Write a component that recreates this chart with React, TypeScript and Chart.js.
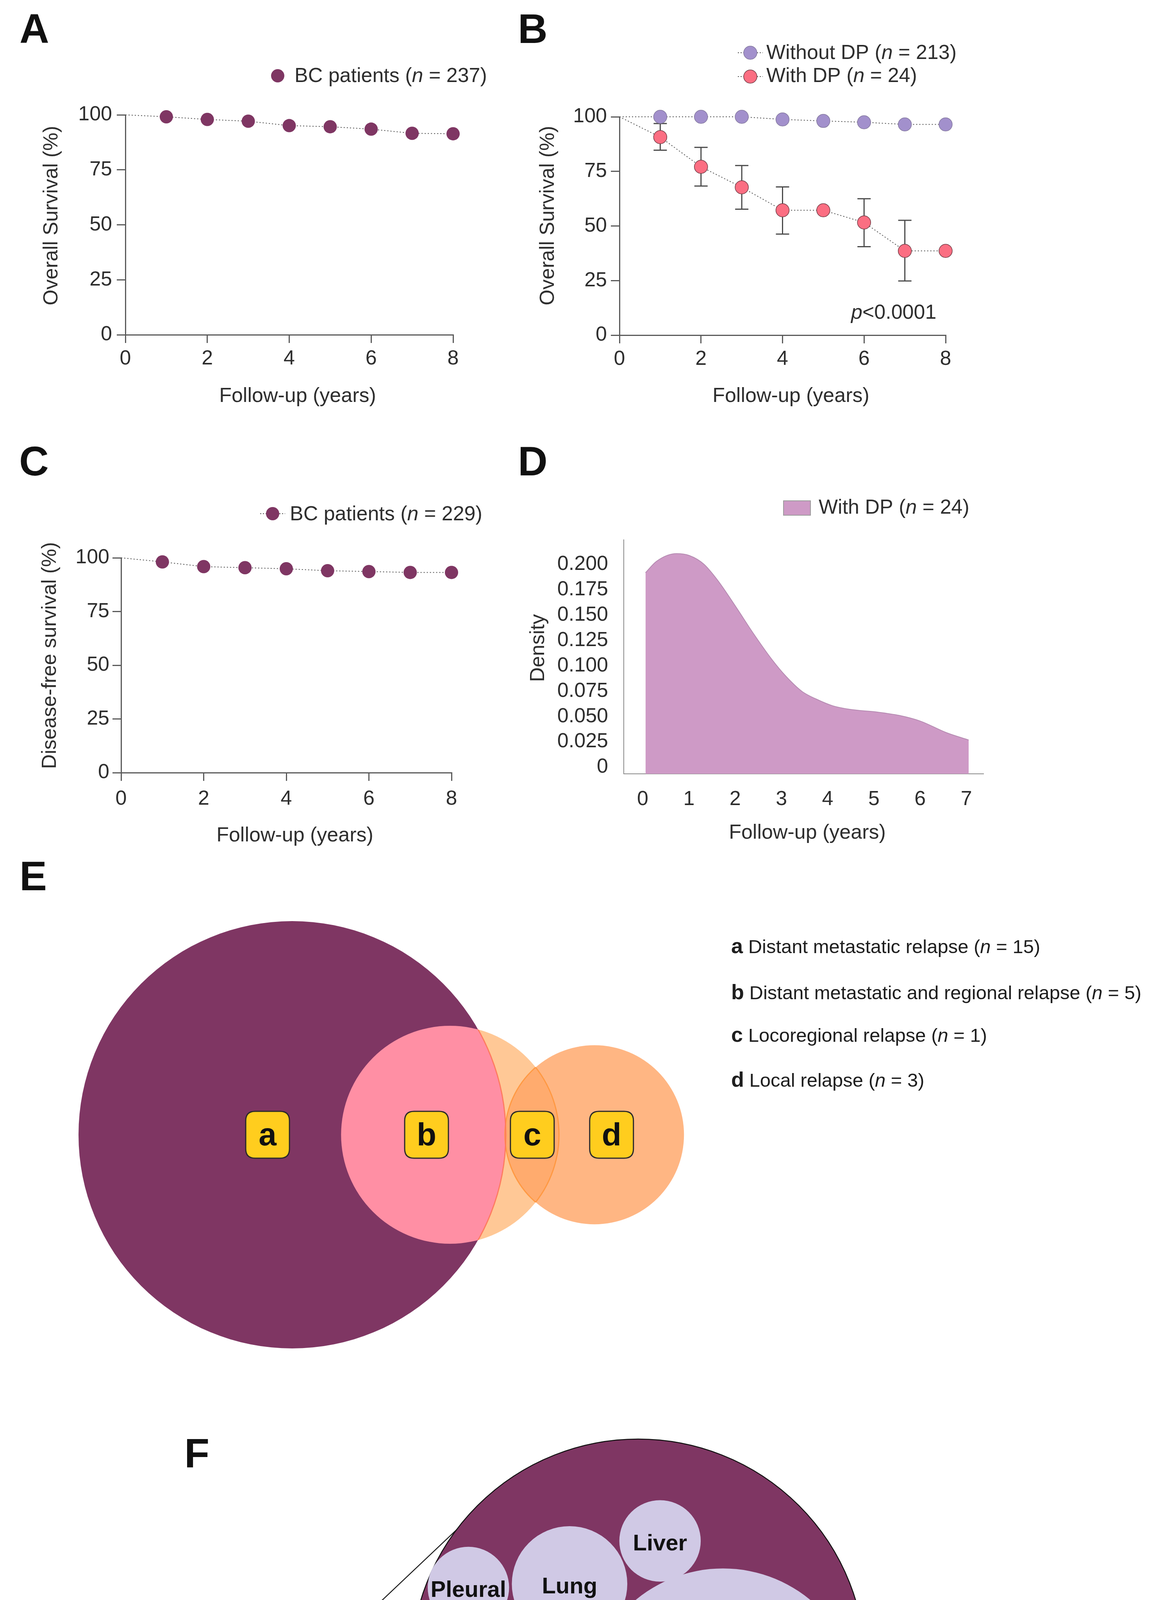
import React, { useEffect, useRef } from 'react';
import { Chart, registerables } from 'chart.js';

Chart.register(...registerables);

const FONT = "'Liberation Sans', Arial, Helvetica, sans-serif";

// ---------------- data ----------------
const followUpYears = [0, 1, 2, 3, 4, 5, 6, 7, 8];
const osAllPatients = [100, 99.1, 97.9, 97.1, 95.1, 94.6, 93.5, 91.6, 91.4];
const osWithoutDP = [100, 100, 100, 100, 98.8, 98.1, 97.5, 96.5, 96.5];
const osWithDP = [100, 90.7, 77.1, 67.7, 57.2, 57.2, 51.6, 38.6, 38.6];
const osWithDPUpper: (number | null)[] = [null, 96.9, 86.0, 77.7, 67.9, null, 62.5, 52.6, null];
const osWithDPLower: (number | null)[] = [null, 84.7, 68.3, 57.7, 46.3, null, 40.5, 24.8, null];
const dfsAllPatients = [100, 98.1, 95.9, 95.4, 94.9, 94.0, 93.6, 93.2, 93.2];

const densityYears = [0.06, 0.3, 0.73, 1.01, 1.32, 1.62, 2.03, 2.38, 2.79, 3.1, 3.45, 3.76, 4.11, 4.47, 5.08, 5.54, 6.0, 6.56, 7.05];
const densityValues = [0.1916, 0.2029, 0.2104, 0.2085, 0.2001, 0.1842, 0.157, 0.1327, 0.1064, 0.0895, 0.0745, 0.067, 0.0605, 0.0571, 0.0543, 0.0511, 0.0455, 0.0342, 0.0268];
const densityXTicks = [0, 1, 2, 3, 4, 5, 6, 7];
const densityYTicks = [0, 0.025, 0.05, 0.075, 0.1, 0.125, 0.15, 0.175, 0.2];
const densityYTickLabels = ['0', '0.025', '0.050', '0.075', '0.100', '0.125', '0.150', '0.175', '0.200'];

// Venn (E): circles a (distant), regional, local — unit = radius of circle a
const vennCircleX = [0, 0.739, 1.415];
const vennCircleY = [0, 0, 0];
const vennCircleR = [1, 0.51, 0.419];
const vennLabels = ['a', 'b', 'c', 'd'];
const vennLabelX = [-0.115, 0.629, 1.124, 1.495];
const vennLabelY = [0, 0, 0, 0];
const relapseLetters = ['a', 'b', 'c', 'd'];
const relapseTypes = ['Distant metastatic relapse', 'Distant metastatic and regional relapse', 'Locoregional relapse', 'Local relapse'];
const relapseCounts = [15, 5, 1, 3];

// Bubble pack (F): unit = radius of enclosing circle
const siteNames = ['Liver', 'Lung', 'Pleural', 'Bone', 'Multiple localizations', 'Brain'];
const siteX = [0.096, -0.302, -0.747, -0.605, 0.373, -0.284];
const siteY = [0.552, 0.363, 0.347, -0.175, -0.17, -0.608];
const siteR = [0.179, 0.254, 0.179, 0.361, 0.601, 0.18];
const calloutTopX = [-1.503, -0.739];
const calloutTopY = [-0.065, 0.658];
const calloutBottomX = [-1.503, -0.582];
const calloutBottomY = [-0.285, -0.809];
const calloutBoxX = -1.555;
const calloutBoxY = -0.17;

// ---------------- styles ----------------
const PURPLE = '#7F3663';
const LAVENDER_POINT = '#A290CC';
const LAVENDER_EDGE = '#857aa0';
const RED_POINT = '#FB6E82';
const RED_EDGE = '#6e3a44';
const AXIS = '#5a5a5a';
const TEXT = '#2e2e2e';
const DENSITY_FILL = '#CE9AC6';
const DENSITY_EDGE = '#B58AB1';
const PEACH = '#FFC896';
const PINK = '#FF8FA4';
const LOCAL = 'rgba(255,164,100,0.8)';
const YELLOW = '#FFCD1E';
const SITE_FILL = '#D0C9E5';

type Part = { t: string; italic?: boolean; bold?: boolean; size?: number };

function drawParts(ctx: CanvasRenderingContext2D, x: number, baseline: number, parts: Part[], size: number, color = TEXT) {
  let cx = x;
  ctx.textBaseline = 'alphabetic';
  ctx.textAlign = 'left';
  ctx.fillStyle = color;
  for (const p of parts) {
    ctx.font = `${p.italic ? 'italic ' : ''}${p.bold ? 'bold ' : ''}${p.size ?? size}px ${FONT}`;
    ctx.fillText(p.t, cx, baseline);
    cx += ctx.measureText(p.t).width;
  }
}

interface AxisTitle { text: string; cx: number; cy: number; vertical?: boolean }

function drawAxisTitle(ctx: CanvasRenderingContext2D, t: AxisTitle) {
  ctx.save();
  ctx.translate(t.cx, t.cy);
  if (t.vertical) ctx.rotate(-Math.PI / 2);
  ctx.fillStyle = TEXT;
  ctx.font = `52px ${FONT}`;
  ctx.textAlign = 'center';
  ctx.textBaseline = 'middle';
  ctx.fillText(t.text, 0, 0);
  ctx.restore();
}

function roundRect(ctx: CanvasRenderingContext2D, cx: number, cy: number, w: number, h: number, r: number) {
  const x = cx - w / 2;
  const y = cy - h / 2;
  ctx.beginPath();
  ctx.moveTo(x + r, y);
  ctx.lineTo(x + w - r, y);
  ctx.quadraticCurveTo(x + w, y, x + w, y + r);
  ctx.lineTo(x + w, y + h - r);
  ctx.quadraticCurveTo(x + w, y + h, x + w - r, y + h);
  ctx.lineTo(x + r, y + h);
  ctx.quadraticCurveTo(x, y + h, x, y + h - r);
  ctx.lineTo(x, y + r);
  ctx.quadraticCurveTo(x, y, x + r, y);
  ctx.closePath();
}

function drawLetterBox(ctx: CanvasRenderingContext2D, cx: number, cy: number, letter: string, w: number, h: number) {
  ctx.save();
  roundRect(ctx, cx, cy, w, h, 24);
  ctx.fillStyle = YELLOW;
  ctx.fill();
  ctx.lineWidth = 3;
  ctx.strokeStyle = '#2a2a2a';
  ctx.stroke();
  ctx.fillStyle = '#111';
  ctx.font = `bold 82px ${FONT}`;
  ctx.textAlign = 'center';
  ctx.textBaseline = 'middle';
  ctx.fillText(letter, cx, cy + 4);
  ctx.restore();
}

const baseOptions = (extra: any) => ({
  responsive: false,
  maintainAspectRatio: false,
  animation: false,
  devicePixelRatio: 1,
  events: [],
  plugins: { legend: { display: false }, tooltip: { enabled: false } },
  ...extra,
});

interface SurvLayout {
  w: number; h: number; left: number; right: number; top: number; bottom: number;
  xTickPad: number; yTickPad: number;
}

function survivalOptions(L: SurvLayout) {
  const f = { family: FONT, size: 52 };
  return baseOptions({
    layout: { padding: { top: L.top, right: L.w - L.right, left: 0, bottom: 0 } },
    scales: {
      x: {
        type: 'linear', min: 0, max: 8,
        afterFit: (s: any) => { s.height = L.h - L.bottom; },
        ticks: { stepSize: 2, color: TEXT, font: f, padding: L.xTickPad, maxRotation: 0, autoSkip: false },
        grid: { drawOnChartArea: false, drawTicks: true, tickLength: 21, color: AXIS, lineWidth: 3 },
        border: { display: true, color: AXIS, width: 3 },
      },
      y: {
        type: 'linear', min: 0, max: 100,
        afterFit: (s: any) => { s.width = L.left; },
        ticks: { stepSize: 25, color: TEXT, font: f, padding: L.yTickPad, autoSkip: false },
        grid: { drawOnChartArea: false, drawTicks: true, tickLength: 22, color: AXIS, lineWidth: 3 },
        border: { display: true, color: AXIS, width: 3 },
      },
    },
  });
}

function survivalDataset(values: number[], color: string, edge?: string) {
  return {
    data: followUpYears.map((x, i) => ({ x, y: values[i] })),
    showLine: true,
    borderColor: '#555',
    borderWidth: 2,
    borderDash: [3, 5],
    pointRadius: (c: any) => (c.dataIndex === 0 ? 0 : 17),
    pointBackgroundColor: color,
    pointBorderColor: edge ?? color,
    pointBorderWidth: edge ? 1.5 : 0,
    clip: false,
  };
}

interface LegendEntry { x: number; y: number; color: string; edge?: string; line?: boolean; textX: number; baseline: number; parts: Part[] }

function overlayPlugin(titles: AxisTitle[], entries: LegendEntry[], texts: { x: number; baseline: number; parts: Part[] }[] = []) {
  return {
    id: 'overlay',
    afterDraw(chart: any) {
      const ctx: CanvasRenderingContext2D = chart.ctx;
      ctx.save();
      titles.forEach((t) => drawAxisTitle(ctx, t));
      for (const e of entries) {
        if (e.line) {
          ctx.save();
          ctx.strokeStyle = '#555';
          ctx.lineWidth = 2;
          ctx.setLineDash([3, 4]);
          ctx.beginPath();
          ctx.moveTo(e.x - 32, e.y);
          ctx.lineTo(e.x + 32, e.y);
          ctx.stroke();
          ctx.restore();
        }
        ctx.beginPath();
        ctx.arc(e.x, e.y, 17, 0, Math.PI * 2);
        ctx.fillStyle = e.color;
        ctx.fill();
        if (e.edge) {
          ctx.lineWidth = 1.5;
          ctx.strokeStyle = e.edge;
          ctx.stroke();
        }
        drawParts(ctx, e.textX, e.baseline, e.parts, 52);
      }
      for (const t of texts) drawParts(ctx, t.x, t.baseline, t.parts, 52);
      ctx.restore();
    },
  };
}

const errorBarPlugin = {
  id: 'errorBars',
  beforeDatasetDraw(chart: any, args: any) {
    if (args.index !== 1) return;
    const { x, y } = chart.scales;
    const ctx: CanvasRenderingContext2D = chart.ctx;
    ctx.save();
    ctx.strokeStyle = '#4a4a4a';
    ctx.lineWidth = 3;
    followUpYears.forEach((yr, i) => {
      const hi = osWithDPUpper[i];
      const lo = osWithDPLower[i];
      if (hi == null || lo == null) return;
      const px = x.getPixelForValue(yr);
      const ph = y.getPixelForValue(hi);
      const pl = y.getPixelForValue(lo);
      ctx.beginPath();
      ctx.moveTo(px, ph); ctx.lineTo(px, pl);
      ctx.moveTo(px - 17, ph); ctx.lineTo(px + 17, ph);
      ctx.moveTo(px - 17, pl); ctx.lineTo(px + 17, pl);
      ctx.stroke();
    });
    ctx.restore();
  },
};

const nItalic = (pre: string, post: string): Part[] => [{ t: pre }, { t: 'n', italic: true }, { t: post }];
const FOLLOW = 'Follow-up (years)';

const buildA = () => ({
  type: 'scatter',
  data: { datasets: [survivalDataset(osAllPatients, PURPLE)] },
  options: survivalOptions({ w: 1300, h: 1100, left: 321, right: 1160, top: 294, bottom: 857, xTickPad: 9, yTickPad: 12 }),
  plugins: [
    overlayPlugin(
      [
        { text: 'Overall Survival (%)', cx: 133, cy: 552, vertical: true },
        { text: FOLLOW, cx: 762, cy: 1015 },
      ],
      [{ x: 711, y: 194, color: PURPLE, textX: 754, baseline: 210, parts: nItalic('BC patients (', ' = 237)') }],
    ),
  ],
});

const buildB = () => ({
  type: 'scatter',
  data: {
    datasets: [
      survivalDataset(osWithoutDP, LAVENDER_POINT, LAVENDER_EDGE),
      survivalDataset(osWithDP, RED_POINT, RED_EDGE),
    ],
  },
  options: survivalOptions({ w: 1300, h: 1100, left: 286, right: 1121, top: 299, bottom: 858, xTickPad: 9, yTickPad: 10 }),
  plugins: [
    errorBarPlugin,
    overlayPlugin(
      [
        { text: 'Overall Survival (%)', cx: 104, cy: 552, vertical: true },
        { text: FOLLOW, cx: 725, cy: 1015 },
      ],
      [
        { x: 621, y: 135, color: LAVENDER_POINT, edge: LAVENDER_EDGE, line: true, textX: 662, baseline: 151, parts: nItalic('Without DP (', ' = 213)') },
        { x: 621, y: 196, color: RED_POINT, edge: RED_EDGE, line: true, textX: 662, baseline: 210, parts: nItalic('With DP (', ' = 24)') },
      ],
      [{ x: 879, baseline: 816, parts: [{ t: 'p', italic: true }, { t: '<0.0001' }] }],
    ),
  ],
});

const buildC = () => ({
  type: 'scatter',
  data: { datasets: [survivalDataset(dfsAllPatients, PURPLE)] },
  options: survivalOptions({ w: 1300, h: 1100, left: 310, right: 1156, top: 328, bottom: 878, xTickPad: 15, yTickPad: 8 }),
  plugins: [
    overlayPlugin(
      [
        { text: 'Disease-free survival (%)', cx: 129, cy: 578, vertical: true },
        { text: FOLLOW, cx: 755, cy: 1040 },
      ],
      [{ x: 698, y: 215, color: PURPLE, line: true, textX: 742, baseline: 232, parts: nItalic('BC patients (', ' = 229)') }],
    ),
  ],
});

const buildD = () => {
  const f = { family: FONT, size: 52 };
  const L = { w: 1300, h: 1100, left: 297, right: 1218, top: 282, bottom: 881 };
  return {
    type: 'scatter',
    data: {
      datasets: [
        {
          data: densityYears.map((x, i) => ({ x, y: densityValues[i] })),
          showLine: true,
          fill: 'start',
          backgroundColor: DENSITY_FILL,
          borderColor: DENSITY_EDGE,
          borderWidth: 2,
          pointRadius: 0,
          cubicInterpolationMode: 'monotone',
        },
      ],
    },
    options: baseOptions({
      layout: { padding: { top: L.top, right: L.w - L.right, left: 0, bottom: 0 } },
      scales: {
        x: {
          type: 'linear', min: -0.41, max: 7.37,
          afterFit: (s: any) => { s.height = L.h - L.bottom; },
          afterBuildTicks: (s: any) => { s.ticks = densityXTicks.map((v) => ({ value: v })); },
          ticks: { color: TEXT, font: f, padding: 26, maxRotation: 0, autoSkip: false, callback: (v: any) => String(v) },
          grid: { display: false },
          border: { display: true, color: '#8a8a8a', width: 2 },
        },
        y: {
          type: 'linear', min: -0.0065, max: 0.224,
          afterFit: (s: any) => { s.width = L.left; },
          afterBuildTicks: (s: any) => { s.ticks = densityYTicks.map((v) => ({ value: v })); },
          ticks: { color: TEXT, font: f, padding: 32, autoSkip: false, callback: (_v: any, i: number) => densityYTickLabels[i] },
          grid: { display: false },
          border: { display: true, color: '#8a8a8a', width: 2 },
        },
      },
    }),
    plugins: [
      {
        id: 'dLegend',
        afterDraw(chart: any) {
          const ctx: CanvasRenderingContext2D = chart.ctx;
          ctx.save();
          drawAxisTitle(ctx, { text: 'Density', cx: 79, cy: 559, vertical: true });
          drawAxisTitle(ctx, { text: FOLLOW, cx: 767, cy: 1033 });
          ctx.fillStyle = DENSITY_FILL;
          ctx.fillRect(706, 182, 69, 37);
          ctx.strokeStyle = '#9a9a9a';
          ctx.lineWidth = 2;
          ctx.strokeRect(706, 182, 69, 37);
          drawParts(ctx, 796, 215, nItalic('With DP (', ' = 24)'), 52);
          ctx.restore();
        },
      },
    ],
  };
};

// pixel radius from data radius via x scale
const radiusFromData = (c: any) => {
  const raw = c.raw;
  if (!raw || raw.r == null) return 0;
  const s = c.chart.scales.x;
  return Math.abs(s.getPixelForValue(raw.r) - s.getPixelForValue(0));
};

const circleClipPlugin = {
  id: 'circleClip',
  beforeDatasetDraw(chart: any, args: any) {
    const ds = chart.data.datasets[args.index];
    if (!ds.clipCircle) return;
    const { x, y } = chart.scales;
    const c = ds.clipCircle;
    const ctx: CanvasRenderingContext2D = chart.ctx;
    ctx.save();
    ctx.beginPath();
    ctx.arc(x.getPixelForValue(c.x), y.getPixelForValue(c.y), Math.abs(x.getPixelForValue(c.r) - x.getPixelForValue(0)), 0, Math.PI * 2);
    ctx.clip();
  },
  afterDatasetDraw(chart: any, args: any) {
    const ds = chart.data.datasets[args.index];
    if (ds.clipCircle) chart.ctx.restore();
  },
};

const vennCircle = (i: number) => ({ x: vennCircleX[i], y: vennCircleY[i], r: vennCircleR[i] });

const buildE = () => {
  const W = 2952, H = 1300, PX = 547, CX = 748, CY = 705;
  const circleDs = (i: number, fill: string, stroke?: string, sw = 0, clipTo?: number) => ({
    data: [vennCircle(i)],
    pointRadius: radiusFromData,
    pointBackgroundColor: fill,
    pointBorderColor: stroke ?? fill,
    pointBorderWidth: sw,
    clipCircle: clipTo == null ? undefined : vennCircle(clipTo),
  });
  return {
    type: 'scatter',
    data: {
      datasets: [
        circleDs(0, 'rgba(0,0,0,0)', 'rgba(255,120,90,0.9)', 3, 1),
        circleDs(1, 'rgba(0,0,0,0)', 'rgba(255,150,60,0.9)', 3, 2),
        circleDs(2, 'rgba(0,0,0,0)', 'rgba(255,150,60,0.9)', 3, 1),
        circleDs(1, PINK, PINK, 0, 0),
        circleDs(0, PURPLE),
        circleDs(2, LOCAL),
        circleDs(1, PEACH),
      ],
    },
    options: baseOptions({
      layout: { padding: 0 },
      scales: {
        x: { type: 'linear', display: false, min: -CX / PX, max: (W - CX) / PX },
        y: { type: 'linear', display: false, min: -(H - CY) / PX, max: CY / PX },
      },
    }),
    plugins: [
      circleClipPlugin,
      {
        id: 'vennText',
        afterDatasetsDraw(chart: any) {
          const ctx: CanvasRenderingContext2D = chart.ctx;
          const { x, y } = chart.scales;
          vennLabels.forEach((l, i) => drawLetterBox(ctx, x.getPixelForValue(vennLabelX[i]), y.getPixelForValue(vennLabelY[i]), l, 112, 120));
          const baselines = [240, 358, 467, 582];
          relapseLetters.forEach((l, i) => {
            drawParts(ctx, 1872, baselines[i], [
              { t: l, bold: true, size: 54 },
              { t: ' ' + relapseTypes[i] + ' (' },
              { t: 'n', italic: true },
              { t: ' = ' + relapseCounts[i] + ')' },
            ], 49, '#1e1e1e');
          });
        },
      },
    ],
  };
};

const buildF = () => {
  const W = 2952, H = 1331, PX = 582, CX = 1634, CY = 716;
  return {
    type: 'scatter',
    data: {
      datasets: [
        {
          data: siteNames.map((_, i) => ({ x: siteX[i], y: siteY[i], r: siteR[i] })),
          pointRadius: radiusFromData,
          pointBackgroundColor: SITE_FILL,
          pointBorderWidth: 0,
        },
        {
          data: [{ x: 0, y: 0, r: 1 }],
          pointRadius: radiusFromData,
          pointBackgroundColor: PURPLE,
          pointBorderColor: '#111',
          pointBorderWidth: 2.5,
        },
        {
          data: calloutTopX.map((x, i) => ({ x, y: calloutTopY[i] })),
          showLine: true, borderColor: '#1a1a1a', borderWidth: 2.5, pointRadius: 0,
        },
        {
          data: calloutBottomX.map((x, i) => ({ x, y: calloutBottomY[i] })),
          showLine: true, borderColor: '#1a1a1a', borderWidth: 2.5, pointRadius: 0,
        },
      ],
    },
    options: baseOptions({
      layout: { padding: 0 },
      scales: {
        x: { type: 'linear', display: false, min: -CX / PX, max: (W - CX) / PX },
        y: { type: 'linear', display: false, min: -(H - CY) / PX, max: CY / PX },
      },
    }),
    plugins: [
      {
        id: 'siteText',
        afterDatasetsDraw(chart: any) {
          const ctx: CanvasRenderingContext2D = chart.ctx;
          const { x, y } = chart.scales;
          ctx.save();
          ctx.fillStyle = '#111';
          ctx.font = `bold 58px ${FONT}`;
          ctx.textAlign = 'center';
          ctx.textBaseline = 'middle';
          siteNames.forEach((n, i) => ctx.fillText(n, x.getPixelForValue(siteX[i]), y.getPixelForValue(siteY[i]) + 8));
          ctx.restore();
          drawLetterBox(ctx, x.getPixelForValue(calloutBoxX), y.getPixelForValue(calloutBoxY), 'a', 110, 122);
        },
      },
    ],
  };
};

function ChartCanvas({ left, top, width, height, build }: { left: number; top: number; width: number; height: number; build: () => any }) {
  const ref = useRef<HTMLCanvasElement | null>(null);
  useEffect(() => {
    if (!ref.current) return;
    const chart = new Chart(ref.current, build());
    return () => chart.destroy();
  }, []);
  return (
    <div style={{ position: 'absolute', left, top, width, height }}>
      <canvas ref={ref} width={width} height={height} style={{ width, height, display: 'block' }} />
    </div>
  );
}

function PanelLetter({ left, top, children }: { left: number; top: number; children: string }) {
  return (
    <div style={{ position: 'absolute', left, top, font: `bold 105px ${FONT}`, lineHeight: '105px', color: '#111' }}>{children}</div>
  );
}

export default function App() {
  useEffect(() => {
    document.body.style.margin = '0';
  }, []);
  return (
    <div style={{ position: 'relative', width: 2952, height: 4881, background: '#fff', overflow: 'hidden' }}>
      <ChartCanvas left={0} top={0} width={1300} height={1100} build={buildA} />
      <ChartCanvas left={1300} top={0} width={1300} height={1100} build={buildB} />
      <ChartCanvas left={0} top={1100} width={1300} height={1100} build={buildC} />
      <ChartCanvas left={1300} top={1100} width={1300} height={1100} build={buildD} />
      <ChartCanvas left={0} top={2200} width={2952} height={1300} build={buildE} />
      <ChartCanvas left={0} top={3550} width={2952} height={1331} build={buildF} />
      <PanelLetter left={50} top={21}>A</PanelLetter>
      <PanelLetter left={1326} top={21}>B</PanelLetter>
      <PanelLetter left={49} top={1128}>C</PanelLetter>
      <PanelLetter left={1326} top={1128}>D</PanelLetter>
      <PanelLetter left={50} top={2190}>E</PanelLetter>
      <PanelLetter left={472} top={3668}>F</PanelLetter>
    </div>
  );
}
